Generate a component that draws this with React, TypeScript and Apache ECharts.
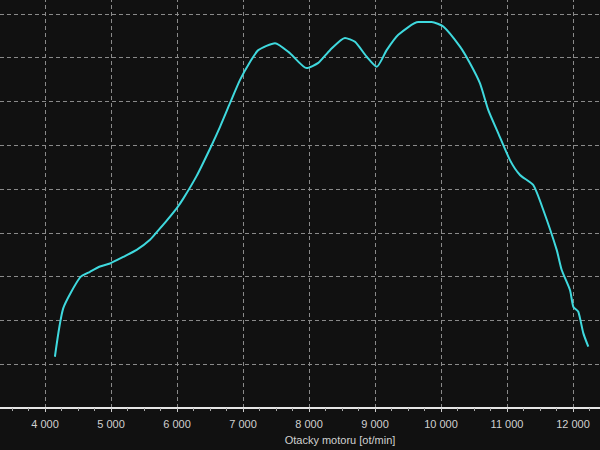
import React, { useEffect, useRef } from "react";
import * as echarts from "echarts";

const rpm = [4150, 4277, 4530, 4682, 4833, 4985, 5186, 5389, 5591, 5742, 5844, 5995, 6095, 6298, 6500, 6652, 6803, 6955, 7106, 7232, 7485, 7712, 7965, 8141, 8318, 8545, 8697, 8874, 9026, 9177, 9353, 9656, 9859, 10035, 10288, 10439, 10591, 10717, 10868, 11045, 11197, 11398, 11550, 11753, 11829, 11955, 12005, 12080, 12156, 12232];
const values = [1.17, 2.28, 2.98, 3.11, 3.23, 3.30, 3.45, 3.61, 3.84, 4.10, 4.28, 4.56, 4.78, 5.30, 5.92, 6.42, 6.96, 7.49, 7.90, 8.17, 8.33, 8.10, 7.76, 7.88, 8.17, 8.45, 8.36, 8.02, 7.79, 8.17, 8.52, 8.81, 8.81, 8.71, 8.25, 7.87, 7.41, 6.80, 6.27, 5.66, 5.32, 5.09, 4.52, 3.61, 3.15, 2.69, 2.31, 2.20, 1.71, 1.40];
const xTitle = "Otacky motoru [ot/min]";

export default function App() {
  const ref = useRef<HTMLDivElement>(null);
  useEffect(() => {
    if (!ref.current) return;
    const chart = echarts.init(ref.current, undefined, { renderer: "svg" });
    const gridColor = "#8a8a8a";
    chart.setOption({
      animation: false,
      backgroundColor: "#111111",
      grid: { left: -21, right: -39, top: -30, bottom: 42, containLabel: false, outerBoundsMode: "none" },
      xAxis: {
        type: "value",
        min: 3000,
        max: 13000,
        interval: 1000,
        axisLine: { show: true, lineStyle: { color: "#e6e6e6", width: 2 } },
        axisTick: { show: true, length: 4, lineStyle: { color: "#cccccc" } },
        minorTick: { show: true, splitNumber: 4, length: 3, lineStyle: { color: "#aaaaaa" } },
        axisLabel: {
          color: "#d0d0d0",
          fontSize: 11,
          fontFamily: "Liberation Sans, Arial, sans-serif",
          margin: 10,
          showMinLabel: false,
          showMaxLabel: false,
          formatter: (v: number) =>
            v < 4000 || v > 12000 ? "" : String(v).replace(/\B(?=(\d{3})+(?!\d))/g, " "),
        },
        splitLine: { show: true, lineStyle: { color: gridColor, type: [4, 3], width: 1 } },
      },
      yAxis: {
        type: "value",
        min: 0,
        max: 10,
        interval: 1,
        axisLine: { show: false },
        axisTick: { show: false },
        axisLabel: { show: false },
        splitLine: { show: true, lineStyle: { color: gridColor, type: [4, 3], width: 1 } },
      },
      graphic: [
        {
          type: "text",
          x: 340,
          y: 440,
          style: {
            text: xTitle,
            fill: "#d0d0d0",
            fontSize: 11,
            fontFamily: "Liberation Sans, Arial, sans-serif",
            textAlign: "center",
            textVerticalAlign: "middle",
          },
        },
      ],
      series: [
        {
          type: "line",
          data: rpm.map((r, i) => [r, values[i]]),
          showSymbol: false,
          smooth: 0.2,
          lineStyle: { color: "#3fd9de", width: 2 },
        },
      ],
    });
    return () => chart.dispose();
  }, []);
  return <div ref={ref} style={{ width: 600, height: 450, position: "fixed", left: 0, top: 0 }} />;
}
